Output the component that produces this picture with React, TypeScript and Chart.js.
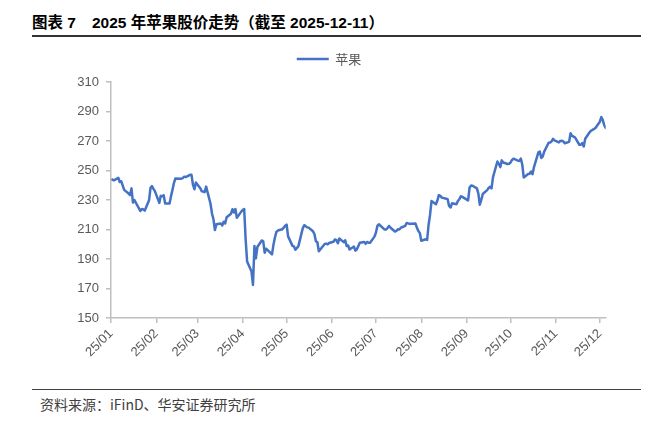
import React, { useEffect, useRef } from "react";
import { Chart, registerables } from "chart.js";

Chart.register(...registerables);

// ---- data (AAPL daily close, 2025) ----
const DAYS_JAN = [2, 3, 6, 7, 8, 10, 13, 14, 15, 16, 17, 21, 22, 23, 24, 27, 28, 29, 30, 31];
const CLOSE_JAN = [243.85, 243.36, 245.0, 242.21, 242.7, 236.85, 234.4, 233.28, 237.87, 228.26, 229.98, 222.64, 223.83, 223.66, 222.78, 229.86, 238.26, 239.36, 237.59, 236.0];
const DAYS_FEB = [3, 4, 5, 6, 7, 10, 11, 12, 13, 14, 18, 19, 20, 21, 24, 25, 26, 27, 28];
const CLOSE_FEB = [228.01, 232.8, 232.47, 233.22, 227.63, 227.65, 232.62, 236.87, 241.53, 244.6, 244.47, 244.87, 245.83, 245.55, 247.1, 247.04, 240.36, 237.3, 241.84];
const DAYS_MAR = [3, 4, 5, 6, 7, 10, 11, 12, 13, 14, 17, 18, 19, 20, 21, 24, 25, 26, 27, 28, 31];
const CLOSE_MAR = [238.03, 235.93, 235.74, 235.33, 239.07, 227.48, 220.84, 216.98, 209.68, 213.49, 214.0, 212.69, 215.24, 214.1, 218.27, 220.73, 223.75, 221.53, 223.85, 217.9, 222.13];
const DAYS_APR = [1, 2, 3, 4, 7, 8, 9, 10, 11, 14, 15, 16, 17, 21, 22, 23, 24, 25, 28, 29, 30];
const CLOSE_APR = [223.19, 223.89, 203.19, 188.38, 181.46, 172.42, 198.85, 190.42, 198.15, 202.52, 202.14, 194.27, 196.98, 193.16, 199.74, 204.6, 208.37, 209.28, 210.14, 211.21, 212.5];
const DAYS_MAY = [1, 2, 5, 6, 7, 8, 9, 12, 13, 14, 15, 16, 19, 20, 21, 22, 23, 27, 28, 29, 30];
const CLOSE_MAY = [213.32, 205.35, 198.89, 198.51, 196.25, 197.49, 198.53, 210.79, 212.93, 212.33, 211.45, 211.26, 208.78, 206.86, 202.09, 201.36, 195.27, 200.21, 200.42, 199.95, 200.85];
const DAYS_JUN = [2, 3, 4, 5, 6, 9, 10, 11, 12, 13, 16, 17, 18, 20, 23, 24, 25, 26, 27, 30];
const CLOSE_JUN = [201.7, 203.27, 202.82, 200.63, 203.92, 201.45, 202.67, 198.78, 199.2, 196.45, 198.42, 195.64, 196.58, 201.0, 201.5, 200.3, 201.56, 201.0, 201.08, 205.17];
const DAYS_JUL = [1, 2, 3, 7, 8, 9, 10, 11, 14, 15, 16, 17, 18, 21, 22, 23, 24, 25, 28, 29, 30, 31];
const CLOSE_JUL = [207.82, 212.44, 213.55, 209.95, 210.01, 211.14, 212.41, 211.16, 208.62, 209.11, 210.16, 210.02, 211.18, 212.48, 214.4, 214.15, 213.76, 213.88, 214.05, 211.27, 209.05, 207.57];
const DAYS_AUG = [1, 4, 5, 6, 7, 8, 11, 12, 13, 14, 15, 18, 19, 20, 21, 22, 25, 26, 27, 28, 29];
const CLOSE_AUG = [202.38, 203.35, 202.92, 213.25, 220.03, 229.35, 227.18, 229.65, 233.33, 232.78, 231.59, 230.89, 230.56, 226.01, 224.9, 227.76, 227.16, 229.31, 230.49, 232.56, 232.14];
const DAYS_SEP = [2, 3, 4, 5, 8, 9, 10, 11, 12, 15, 16, 17, 18, 19, 22, 23, 24, 25, 26, 29, 30];
const CLOSE_SEP = [229.72, 238.47, 239.78, 239.69, 237.88, 234.35, 226.79, 230.03, 234.07, 236.7, 238.15, 238.99, 237.88, 245.5, 256.08, 254.43, 252.31, 256.87, 255.46, 254.43, 254.63];
const DAYS_OCT = [1, 2, 3, 6, 7, 8, 9, 10, 13, 14, 15, 16, 17, 20, 21, 22, 23, 24, 27, 28, 29, 30, 31];
const CLOSE_OCT = [255.45, 257.13, 258.02, 256.69, 256.48, 258.06, 254.04, 245.27, 247.66, 247.77, 249.34, 247.45, 252.29, 262.24, 262.77, 258.45, 259.58, 262.82, 268.81, 269.0, 269.7, 271.4, 270.37];
const DAYS_NOV = [3, 4, 5, 6, 7, 10, 11, 12, 13, 14, 17, 18, 19, 20, 21, 24, 25, 26, 28];
const CLOSE_NOV = [269.05, 270.04, 270.14, 269.77, 268.47, 269.43, 275.25, 273.47, 272.95, 272.41, 267.46, 267.44, 268.56, 266.25, 271.49, 275.92, 276.97, 277.55, 278.85];
const DAYS_DEC = [1, 2, 3, 4, 5];
const CLOSE_DEC = [283.1, 286.19, 284.15, 280.7, 278.78];

const YEAR = 2025;
const SERIES_NAME = "苹果";
const X_TICK_LABELS = ["25/01", "25/02", "25/03", "25/04", "25/05", "25/06", "25/07", "25/08", "25/09", "25/10", "25/11", "25/12"];
const Y_MIN = 150;
const Y_MAX = 310;
const Y_STEP = 20;

const TITLE_LEFT = "图表 7";
const TITLE_RIGHT = "2025 年苹果股价走势（截至 2025-12-11）";
const SOURCE = "资料来源：iFinD、华安证券研究所";

const MONTH_DAYS = [DAYS_JAN, DAYS_FEB, DAYS_MAR, DAYS_APR, DAYS_MAY, DAYS_JUN, DAYS_JUL, DAYS_AUG, DAYS_SEP, DAYS_OCT, DAYS_NOV, DAYS_DEC];
const MONTH_CLOSES = [CLOSE_JAN, CLOSE_FEB, CLOSE_MAR, CLOSE_APR, CLOSE_MAY, CLOSE_JUN, CLOSE_JUL, CLOSE_AUG, CLOSE_SEP, CLOSE_OCT, CLOSE_NOV, CLOSE_DEC];

const dayIndex = (m: number, d: number) => (Date.UTC(YEAR, m, d) - Date.UTC(YEAR, 0, 1)) / 86400000;

const LATIN = '"Liberation Sans", Arial, "Noto Sans CJK SC", sans-serif';
const CJK = '"Noto Sans CJK SC", "Liberation Sans", sans-serif';
const LINE_BLUE = "#4472C4";
const AXIS_GREY = "#bfbfbf";
const LABEL_GREY = "#595959";

export default function App() {
  const canvasRef = useRef<HTMLCanvasElement | null>(null);

  useEffect(() => {
    const points: { x: number; y: number }[] = [];
    MONTH_DAYS.forEach((days, m) => {
      days.forEach((d, i) => points.push({ x: dayIndex(m, d), y: MONTH_CLOSES[m][i] }));
    });
    const tickValues = X_TICK_LABELS.map((_, m) => dayIndex(m, 1));
    const lastX = points[points.length - 1].x;

    const chart = new Chart(canvasRef.current as HTMLCanvasElement, {
      type: "line",
      data: {
        datasets: [
          {
            label: SERIES_NAME,
            data: points,
            borderColor: LINE_BLUE,
            backgroundColor: LINE_BLUE,
            borderWidth: 2.5,
            pointRadius: 0,
            tension: 0,
            borderJoinStyle: "round",
            borderCapStyle: "round",
          } as any,
        ],
      },
      options: {
        responsive: false,
        animation: false,
        devicePixelRatio: 1,
        layout: { padding: { top: 2.5, right: 52.3, bottom: 0, left: 52.3 } },
        plugins: {
          legend: {
            display: true,
            position: "top",
            labels: {
              usePointStyle: true,
              pointStyle: "line",
              pointStyleWidth: 32,
              color: LABEL_GREY,
              font: { family: CJK, size: 13 },
              padding: 10,
            },
          },
          title: {
            display: true,
            text: "",
            weight: 500,
            padding: { top: 0, bottom: 6.5 },
            font: { size: 1, lineHeight: 0 },
          } as any,
          tooltip: { enabled: false },
        },
        scales: {
          x: {
            type: "linear",
            min: 0,
            max: lastX,
            afterBuildTicks: (axis: any) => {
              axis.ticks = tickValues.map((v) => ({ value: v }));
            },
            afterFit: (s: any) => {
              s.height = 62;
            },
            grid: { drawOnChartArea: false, drawTicks: true, tickLength: 5, color: AXIS_GREY, lineWidth: 1.5 },
            border: { display: true, color: AXIS_GREY, width: 1.5 },
            ticks: {
              autoSkip: false,
              maxRotation: 45,
              minRotation: 45,
              padding: 3,
              color: LABEL_GREY,
              font: { family: LATIN, size: 13 },
              callback: (v: any) => {
                const i = tickValues.indexOf(Number(v));
                return i >= 0 ? X_TICK_LABELS[i] : "";
              },
            },
          },
          y: {
            min: Y_MIN,
            max: Y_MAX,
            afterFit: (s: any) => {
              s.width = 111 - 52.3;
            },
            grid: { drawOnChartArea: false, drawTicks: true, tickLength: 5, color: AXIS_GREY, lineWidth: 1.5 },
            border: { display: true, color: AXIS_GREY, width: 1.5 },
            ticks: {
              stepSize: Y_STEP,
              padding: 7,
              color: LABEL_GREY,
              font: { family: LATIN, size: 13 },
            },
          },
        },
      },
    });
    return () => chart.destroy();
  }, []);

  return (
    <div style={{ position: "fixed", left: 0, top: 0, width: 658, height: 422, background: "#fff", overflow: "hidden" }}>
      <div
        style={{
          position: "absolute",
          left: 32,
          top: 13,
          height: 20,
          lineHeight: "20px",
          fontSize: 15.5,
          fontWeight: "bold",
          color: "#000",
          fontFamily: LATIN,
          whiteSpace: "pre",
        }}
      >
        <span>{TITLE_LEFT}</span>
        <span style={{ marginLeft: 16 }}>{TITLE_RIGHT}</span>
      </div>
      <div style={{ position: "absolute", left: 32, top: 35, width: 609, height: 1.5, background: "#333" }} />
      <div style={{ position: "absolute", left: 0, top: 40, width: 658, height: 340 }}>
        <canvas ref={canvasRef} width={658} height={340} style={{ display: "block" }} />
      </div>
      <div style={{ position: "absolute", left: 32, top: 388.5, width: 609, height: 1.3, background: "#404040" }} />
      <div
        style={{
          position: "absolute",
          left: 40,
          top: 394,
          height: 20,
          lineHeight: "20px",
          fontSize: 14,
          color: "#404040",
          fontFamily: CJK,
          whiteSpace: "pre",
        }}
      >
        {SOURCE}
      </div>
    </div>
  );
}
